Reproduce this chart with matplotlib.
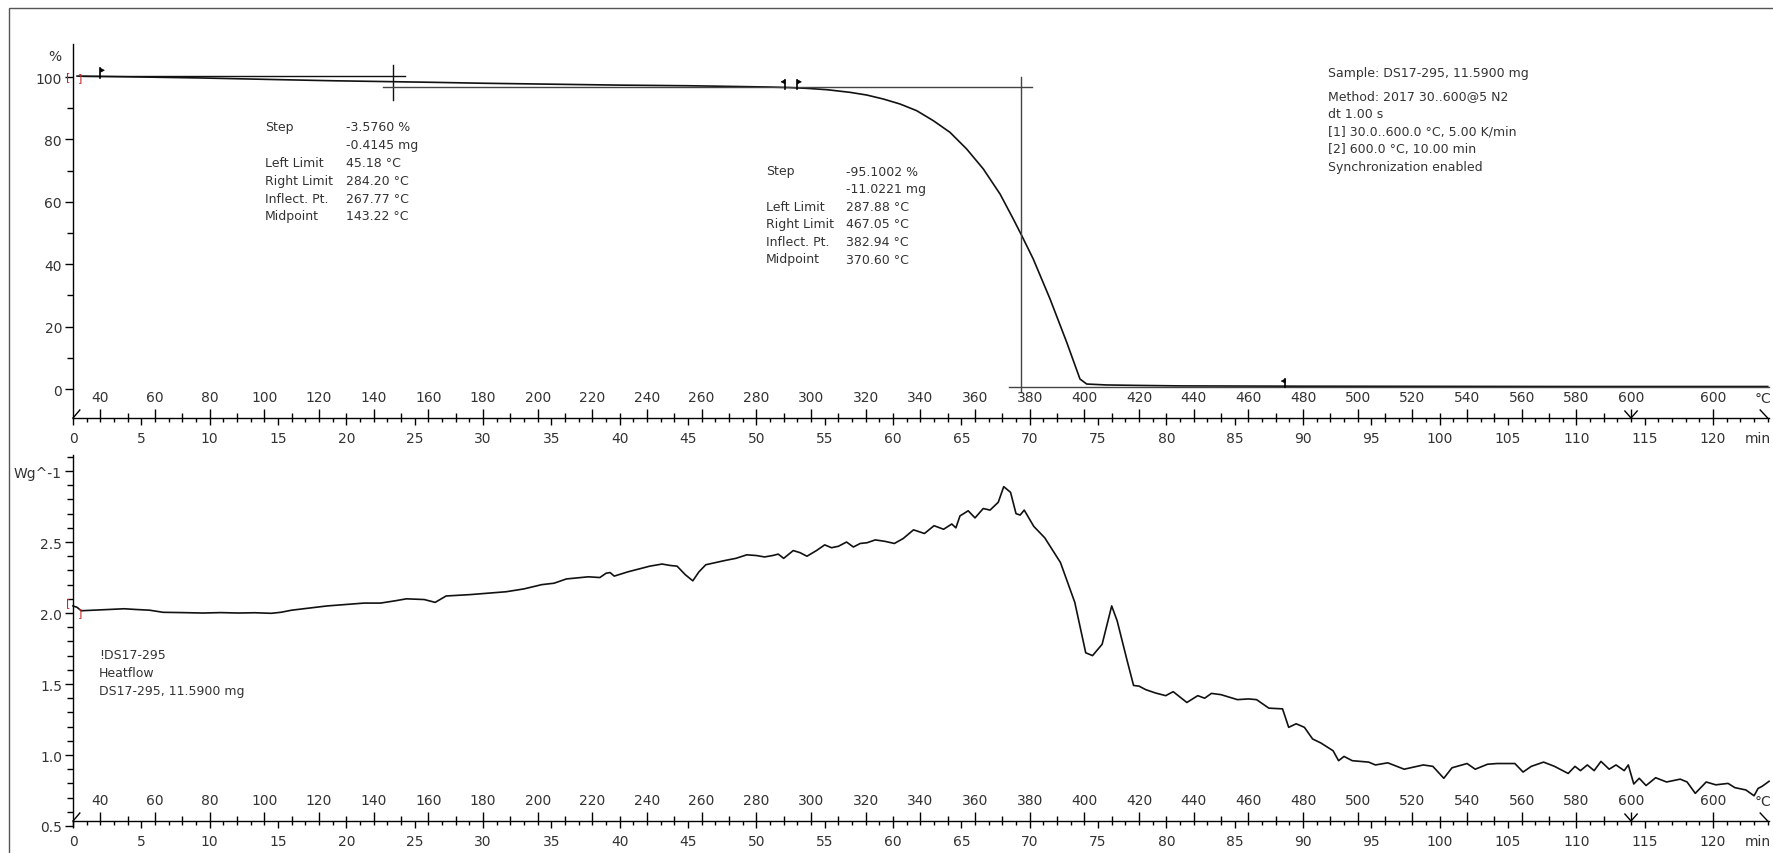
import matplotlib
matplotlib.use("Agg")
import matplotlib.pyplot as plt
from matplotlib.ticker import FixedLocator, MultipleLocator, NullFormatter
from matplotlib.patches import Rectangle

# ---------------- data ----------------
tga_time = [0.3, 2.0, 5.0, 9.3, 14.6, 19.0, 23.4, 26.3, 30.0, 35.0, 40.0, 45.0, 48.0,
            50.8, 52.5, 53.68, 55.15, 56.85, 58.07, 59.29, 60.51, 61.73, 62.95, 64.17,
            65.39, 66.61, 67.83, 68.8, 69.42, 70.26, 71.49, 72.71, 73.68, 74.17, 75.6,
            78.0, 81.0, 90.0, 100.0, 110.0, 124.0]
tga_pct = [100.3, 100.2, 100.0, 99.7, 99.2, 98.8, 98.5, 98.3, 98.0, 97.7, 97.4, 97.2, 97.0,
           96.8, 96.6, 96.37, 95.94, 95.09, 94.23, 92.95, 91.35, 89.21, 86.0, 82.26,
           76.92, 70.51, 62.5, 54.49, 49.15, 41.67, 28.85, 14.96, 3.2, 1.6, 1.3,
           1.15, 1.0, 0.9, 0.85, 0.8, 0.8]

dsc_time = [0.0, 0.3, 0.6, 1.5, 2.5, 3.75, 4.6, 5.6, 6.6, 8.0, 9.5, 10.8, 12.1, 13.3, 14.5,
            15.2, 16.0, 17.3, 18.6, 20.0, 21.3, 22.5, 23.5, 24.4, 25.7, 26.5, 27.3, 28.2,
            29.1, 30.4, 31.7, 33.0, 34.3, 35.2, 36.1, 37.7, 38.55, 39.0, 39.3, 39.6, 40.6,
            41.4, 42.2, 43.1, 43.7, 44.2, 44.8, 45.35, 45.8, 46.3, 47.0, 47.7, 48.5, 49.3,
            50.0, 50.6, 51.2, 51.6, 52.0, 52.7, 53.2, 53.7, 54.4, 55.0, 55.5, 56.0, 56.6,
            57.1, 57.6, 58.1, 58.7, 59.4, 60.1, 60.75, 61.5, 62.3, 63.0, 63.7, 64.3, 64.6,
            64.9, 65.5, 66.0, 66.6, 67.1, 67.7, 68.1, 68.6, 69.0, 69.3, 69.6, 70.3, 71.1,
            72.25, 73.3, 74.1, 74.6, 75.3, 76.0, 76.4, 77.1, 77.6, 78.0, 78.5, 79.2, 79.95,
            80.5, 81.5, 82.3, 82.8, 83.3, 84.0, 85.2, 86.0, 86.6, 87.5, 88.5, 88.95, 89.5,
            90.1, 90.7, 91.3, 92.2, 92.6, 93.0, 93.6, 94.2, 94.8, 95.3, 96.2, 97.4, 98.1,
            98.8, 99.5, 100.3, 100.9, 102.0, 102.6, 103.5, 104.2, 104.9, 105.5, 106.1,
            106.7, 107.6, 108.4, 109.4, 109.9, 110.3, 110.8, 111.3, 111.8, 112.4, 112.9,
            113.5, 113.8, 114.2, 114.6, 115.1, 115.8, 116.6, 117.6, 118.1, 118.7, 119.5,
            120.2, 121.1, 121.6, 122.4, 123.0, 123.3, 123.6, 124.1]
dsc_hf = [2.05, 2.04, 2.016, 2.02, 2.025, 2.03, 2.025, 2.02, 2.005, 2.003, 2.0, 2.003, 2.0,
          2.002, 1.998, 2.005, 2.02, 2.035, 2.05, 2.06, 2.07, 2.07, 2.085, 2.10, 2.095,
          2.075, 2.12, 2.125, 2.13, 2.14, 2.15, 2.17, 2.20, 2.21, 2.24, 2.255, 2.25, 2.28,
          2.285, 2.26, 2.29, 2.31, 2.33, 2.345, 2.335, 2.33, 2.27, 2.227, 2.29, 2.34, 2.355,
          2.37, 2.385, 2.41, 2.405, 2.395, 2.405, 2.415, 2.385, 2.44, 2.425, 2.40, 2.44,
          2.48, 2.46, 2.47, 2.50, 2.465, 2.49, 2.495, 2.515, 2.505, 2.49, 2.525, 2.586,
          2.56, 2.615, 2.59, 2.627, 2.60, 2.684, 2.72, 2.67, 2.736, 2.725, 2.78, 2.89,
          2.85, 2.70, 2.69, 2.725, 2.61, 2.53, 2.356, 2.075, 1.72, 1.70, 1.78, 2.05, 1.945,
          1.676, 1.49, 1.485, 1.46, 1.437, 1.418, 1.446, 1.37, 1.418, 1.40, 1.434, 1.425,
          1.39, 1.395, 1.39, 1.33, 1.325, 1.195, 1.22, 1.195, 1.113, 1.085, 1.03, 0.96,
          0.99, 0.96, 0.955, 0.95, 0.93, 0.945, 0.90, 0.915, 0.93, 0.92, 0.836, 0.91, 0.94,
          0.90, 0.935, 0.94, 0.94, 0.94, 0.88, 0.92, 0.95, 0.92, 0.87, 0.92, 0.89, 0.93,
          0.89, 0.955, 0.90, 0.93, 0.89, 0.93, 0.796, 0.836, 0.785, 0.84, 0.81, 0.83, 0.81,
          0.73, 0.81, 0.79, 0.80, 0.77, 0.754, 0.713, 0.765, 0.78, 0.815]

time_ticks = list(range(0, 121, 5))
time_labels = [str(t) for t in time_ticks]
temp_tick_times = list(range(2, 115, 4)) + [120]
temp_tick_labels = [str(30 + 5 * t) for t in range(2, 115, 4)] + ["600"]
temp_minor_times = list(range(4, 115, 4))

tga_yticks = [0, 20, 40, 60, 80, 100]
tga_yminor = [10, 30, 50, 70, 90]
dsc_yticks = [0.5, 1.0, 1.5, 2.0, 2.5, 3.0]
dsc_ylabels = ["0.5", "1.0", "1.5", "2.0", "2.5", "Wg^-1"]
dsc_yminor = [round(0.5 + 0.1 * i, 1) for i in range(1, 27)]

# ---------------- layout ----------------
W, H = 1773, 854
fig = plt.figure(figsize=(W / 100, H / 100), dpi=100)
plt.rcParams["font.family"] = ["DejaVu Sans"]
TXT = "#333333"
PT = 0.72  # points per pixel at 100 dpi

def px_axes(l, t, r, b):
    return fig.add_axes([l / W, 1 - b / H, (r - l) / W, (b - t) / H])

XMAX = 124.1
ax1 = px_axes(73, 45, 73 + XMAX * 13.667, 419)
ax2 = px_axes(73, 456, 73 + XMAX * 13.667, 827)
ax1.set_ylim(-9.29, 110.58)
ax2.set_ylim(0.5, 3.113)
LINE1 = -9.29      # data y of the time axis line, top panel
LINE2 = 0.535      # data y of the time axis line, bottom panel

def style(ax, yt, ylab, yminor, yline):
    ax.set_xlim(0, XMAX)
    ax.set_facecolor("none")
    for s in ["top", "right"]:
        ax.spines[s].set_visible(False)
    for s in ["left", "bottom"]:
        ax.spines[s].set_linewidth(1.0)
        ax.spines[s].set_color("black")
    ax.spines["bottom"].set_position(("data", yline))
    ax.xaxis.set_major_locator(FixedLocator(time_ticks))
    ax.set_xticklabels(time_labels)
    ax.xaxis.set_minor_locator(MultipleLocator(1))
    ax.tick_params(axis="x", which="major", direction="out", length=7 * PT, width=1,
                   pad=6 * PT, labelsize=10, labelcolor=TXT)
    ax.tick_params(axis="x", which="minor", direction="out", length=4 * PT, width=1)
    ax.yaxis.set_major_locator(FixedLocator(yt))
    ax.set_yticklabels(ylab)
    ax.yaxis.set_minor_locator(FixedLocator(yminor))
    ax.tick_params(axis="y", which="major", direction="out", length=8 * PT, width=1,
                   pad=3 * PT, labelsize=10, labelcolor=TXT)
    ax.tick_params(axis="y", which="minor", direction="out", length=6 * PT, width=1)
    # temperature axis: ticks pointing up from the time axis line
    axT = ax.twiny()
    axT.set_xlim(0, XMAX)
    axT.set_facecolor("none")
    for s in ["left", "right", "bottom"]:
        axT.spines[s].set_visible(False)
    axT.spines["top"].set_position(("data", yline))
    axT.spines["top"].set_visible(False)
    axT.xaxis.set_major_locator(FixedLocator(temp_tick_times))
    axT.set_xticklabels(temp_tick_labels)
    axT.xaxis.set_minor_locator(FixedLocator(temp_minor_times))
    axT.xaxis.set_minor_formatter(NullFormatter())
    axT.tick_params(axis="x", which="major", direction="out", length=9 * PT, width=1,
                    pad=5 * PT, labelsize=10, labelcolor=TXT)
    axT.tick_params(axis="x", which="minor", direction="out", length=5 * PT, width=1)
    # end labels
    ax.annotate("min", xy=(1758 - 73, yline), xycoords=("axes pixels", "data"),
                xytext=(0, -20 * PT), textcoords="offset points", ha="center",
                va="center", fontsize=10, color=TXT, annotation_clip=False)
    ax.annotate("°C", xy=(1763 - 73, yline), xycoords=("axes pixels", "data"),
                xytext=(0, 20 * PT), textcoords="offset points", ha="center",
                va="center", fontsize=10, color=TXT, annotation_clip=False)
    return axT

style(ax1, tga_yticks, [str(v) for v in tga_yticks], tga_yminor, LINE1)
style(ax2, dsc_yticks, dsc_ylabels, dsc_yminor, LINE2)

def axis_marks(ax, y0, ppx):
    ax.plot([0, 0.5], [y0, y0 + 8 * ppx], color="black", lw=1, clip_on=False)
    ax.plot([113.55, 114, 114.45], [y0 + 7 * ppx, y0, y0 + 7 * ppx], color="black",
            lw=1, clip_on=False)
    ax.plot([123.45, 124.0], [y0 + 8 * ppx, y0], color="black", lw=1, clip_on=False)

axis_marks(ax1, LINE1, 1 / 3.12)
axis_marks(ax2, LINE2, 1 / 142.0)

# ---------------- TGA panel ----------------
ax1.plot(tga_time, tga_pct, color="#111111", lw=1.2, clip_on=False)
# evaluation construction lines
ax1.plot([0.7, 24.3], [100.3, 100.3], color="#111111", lw=1)
ax1.plot([23.4, 23.4], [92.7, 103.8], color="#111111", lw=1)
ax1.plot([22.7, 70.2], [96.8, 96.8], color="#444444", lw=1)
ax1.plot([69.4, 69.4], [-1.0, 100.0], color="#444444", lw=1)
ax1.plot([68.5, XMAX], [0.75, 0.75], color="#444444", lw=1, clip_on=False)

def flag(ax, t, ybase, ytop, direction, ppx):
    ax.plot([t, t], [ybase, ytop], color="black", lw=1.2)
    dx = 4 / 13.667 * direction
    ax.fill([t, t + dx, t], [ytop, ytop - 2 * ppx, ytop - 4 * ppx], color="black", lw=0.5)

flag(ax1, 2.0, 99.6, 102.8, 1, 1 / 3.12)
flag(ax1, 52.1, 96.2, 99.1, -1, 1 / 3.12)
flag(ax1, 53.0, 96.2, 99.1, 1, 1 / 3.12)
flag(ax1, 88.7, 0.6, 3.2, -1, 1 / 3.12)

ax1.annotate("%", xy=(0, 106.7), xycoords=("axes fraction", "data"), xytext=(-18 * PT, 0),
             textcoords="offset points", ha="center", va="center", fontsize=10, color=TXT,
             annotation_clip=False)
ax1.text(-0.35, 100.2, "[", color="#cc2222", fontsize=8, ha="center", va="center")
ax1.text(0.55, 100.0, "]", color="#cc2222", fontsize=8, ha="center", va="center")

# ---------------- DSC panel ----------------
ax2.plot(dsc_time, dsc_hf, color="#111111", lw=1.2, clip_on=False)
ax2.text(-0.35, 2.08, "[", color="#cc2222", fontsize=8, ha="center", va="center")
ax2.text(0.55, 2.01, "]", color="#cc2222", fontsize=8, ha="center", va="center")

# ---------------- text blocks ----------------
def ftext(x, y, s, **kw):
    fig.text(x / W, 1 - y / H, s, ha="left", va="center", fontsize=9, color=TXT, **kw)

blk1_labels = ["Step", "", "Left Limit", "Right Limit", "Inflect. Pt.", "Midpoint"]
blk1_values = ["-3.5760 %", "-0.4145 mg", "45.18 °C", "284.20 °C", "267.77 °C", "143.22 °C"]
blk2_labels = ["Step", "", "Left Limit", "Right Limit", "Inflect. Pt.", "Midpoint"]
blk2_values = ["-95.1002 %", "-11.0221 mg", "287.88 °C", "467.05 °C", "382.94 °C", "370.60 °C"]
for i, (a, b) in enumerate(zip(blk1_labels, blk1_values)):
    ftext(265, 128 + 17.8 * i, a)
    ftext(346, 128 + 17.8 * i, b)
for i, (a, b) in enumerate(zip(blk2_labels, blk2_values)):
    ftext(766, 172 + 17.6 * i, a)
    ftext(846, 172 + 17.6 * i, b)

info_lines = ["Sample: DS17-295, 11.5900 mg", "Method: 2017 30..600@5 N2", "dt 1.00 s",
              "[1] 30.0..600.0 °C, 5.00 K/min", "[2] 600.0 °C, 10.00 min",
              "Synchronization enabled"]
info_y = [74, 97, 114, 132, 149, 167]
for s, y in zip(info_lines, info_y):
    ftext(1328, y, s)

legend_lines = ["!DS17-295", "Heatflow", "DS17-295, 11.5900 mg"]
for i, s in enumerate(legend_lines):
    ftext(99, 656 + 18 * i, s)

# figure frame
fig.add_artist(Rectangle((9 / W, -0.05), 1.2, 1 - 9 / H + 0.05, transform=fig.transFigure,
                         fill=False, edgecolor="#555555", lw=1))

fig.savefig("out.png", dpi=100, facecolor="white")
